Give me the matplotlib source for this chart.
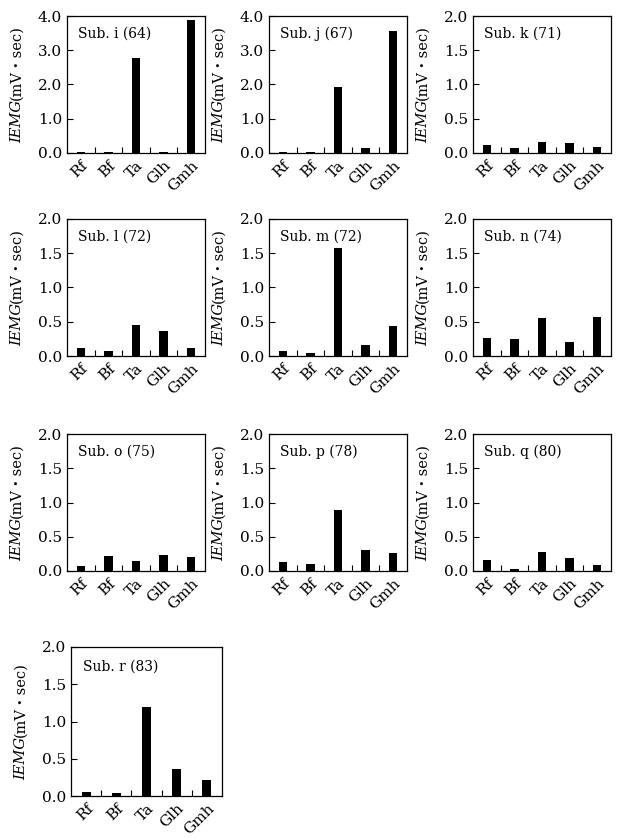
import matplotlib.pyplot as plt
import numpy as np

plt.rcParams['font.family'] = ['DejaVu Serif', 'Noto Sans CJK JP']

muscles = ["Rf", "Bf", "Ta", "Glh", "Gmh"]

titles = ["Sub. i (64)", "Sub. j (67)", "Sub. k (71)",
          "Sub. l (72)", "Sub. m (72)", "Sub. n (74)",
          "Sub. o (75)", "Sub. p (78)", "Sub. q (80)",
          "Sub. r (83)"]

sub_i = [0.02, 0.02, 2.78, 0.02, 3.88]
sub_j = [0.03, 0.03, 1.94, 0.15, 3.57]
sub_k = [0.11, 0.07, 0.16, 0.14, 0.09]
sub_l = [0.12, 0.075, 0.455, 0.37, 0.12]
sub_m = [0.08, 0.05, 1.57, 0.155, 0.44]
sub_n = [0.27, 0.255, 0.55, 0.21, 0.57]
sub_o = [0.08, 0.22, 0.145, 0.23, 0.20]
sub_p = [0.125, 0.095, 0.89, 0.30, 0.27]
sub_q = [0.16, 0.03, 0.28, 0.19, 0.09]
sub_r = [0.05, 0.035, 1.19, 0.36, 0.215]

series = [sub_i, sub_j, sub_k, sub_l, sub_m, sub_n, sub_o, sub_p, sub_q, sub_r]
ymax = [4.0, 4.0, 2.0, 2.0, 2.0, 2.0, 2.0, 2.0, 2.0, 2.0]

W, H = 619, 838
fig = plt.figure(figsize=(W / 100, H / 100), dpi=100)
renderer = fig.canvas.get_renderer()

# axes boxes in pixels: left, top, width, height
lefts = [67, 269, 473]
tops = [16, 219, 434]
boxes = []
for r in range(3):
    for c in range(3):
        boxes.append((lefts[c], tops[r], 138, 137))
boxes.append((71, 647, 151, 149))

x = np.arange(len(muscles))
for k in range(10):
    l, t, w, h = boxes[k]
    ax = fig.add_axes([l / W, 1 - (t + h) / H, w / W, h / H])
    ax.bar(x, series[k], width=0.3, color="black")
    ax.set_xlim(-0.5, 4.5)
    ax.set_ylim(0, ymax[k])
    if ymax[k] == 4.0:
        ax.set_yticks([0, 1, 2, 3, 4])
        ax.set_yticklabels(["0.0", "1.0", "2.0", "3.0", "4.0"])
    else:
        ax.set_yticks([0, 0.5, 1.0, 1.5, 2.0])
        ax.set_yticklabels(["0.0", "0.5", "1.0", "1.5", "2.0"])
    ax.set_xticks(x)
    ax.set_xticklabels(muscles, rotation=45, ha="right", rotation_mode="anchor")
    ax.set_xticks([0.5, 1.5, 2.5, 3.5], minor=True)
    ax.tick_params(axis="x", which="major", length=0, labelsize=11, pad=4)
    ax.tick_params(axis="x", which="minor", direction="in", length=4, width=0.8)
    ax.tick_params(axis="y", direction="in", length=4, width=0.8, labelsize=11)
    for s in ax.spines.values():
        s.set_linewidth(0.9)
    ax.text(0.08, 0.87, titles[k], transform=ax.transAxes, fontsize=10,
            va="center", ha="left")

    # y label: italic "IEMG" followed by upright "(mV・sec)"
    xf = -50 / w
    t1 = ax.text(xf, 0, "IEMG", style="italic", rotation=90, fontsize=10.5,
                 transform=ax.transAxes, ha="center", va="bottom")
    t2 = ax.text(xf, 0, "(mV・sec)", rotation=90, fontsize=10.5,
                 transform=ax.transAxes, ha="center", va="bottom")
    h1 = t1.get_window_extent(renderer).height / h
    h2 = t2.get_window_extent(renderer).height / h
    y0 = 0.5 - (h1 + h2) / 2
    t1.set_y(y0)
    t2.set_y(y0 + h1)

plt.savefig("out.png", dpi=100)
